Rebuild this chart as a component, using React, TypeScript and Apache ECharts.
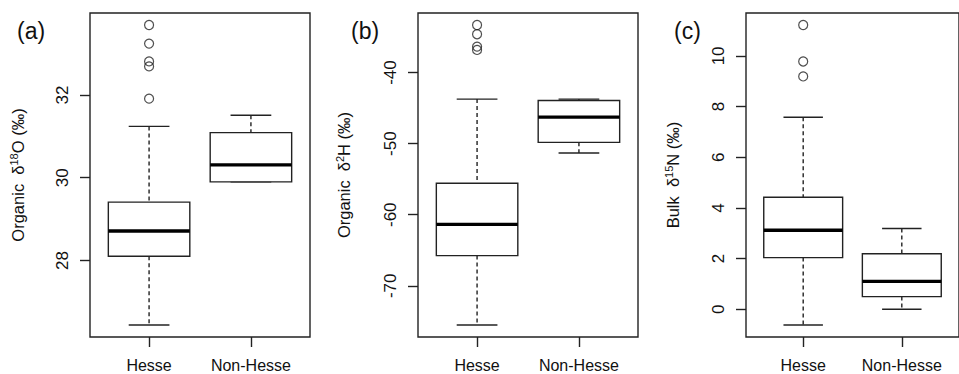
import React, { useEffect, useRef } from "react";
import * as echarts from "echarts";

// Categories
const categories = ["Hesse", "Non-Hesse"];

// Box statistics: [lower whisker, Q1, median, Q3, upper whisker]
const o18Hesse = [26.44, 28.1, 28.71, 29.41, 31.24];
const o18NonHesse = [29.9, 29.9, 30.31, 31.09, 31.51];
const o18OutliersHesse = [33.69, 33.24, 32.81, 32.69, 31.91];

const h2Hesse = [-75.51, -65.75, -61.35, -55.57, -43.73];
const h2NonHesse = [-51.31, -49.82, -46.27, -43.93, -43.73];
const h2OutliersHesse = [-33.31, -34.61, -36.35, -36.82];

const n15Hesse = [-0.62, 2.04, 3.12, 4.42, 7.58];
const n15NonHesse = [0.0, 0.5, 1.1, 2.19, 3.19];
const n15OutliersHesse = [11.22, 9.78, 9.19];

// Tick labels
const o18Ticks = [28, 30, 32];
const h2Ticks = [-70, -60, -50, -40];
const n15Ticks = [0, 2, 4, 6, 8, 10];

const panelLabels = ["(a)", "(b)", "(c)"];

const FONT = "Liberation Sans, Arial, Helvetica, sans-serif";
const LINE = "#222";

function limits(vals: number[]) {
  const lo = Math.min(...vals);
  const hi = Math.max(...vals);
  const ext = (hi - lo) * 0.04;
  return [lo - ext, hi + ext];
}

function renderBox(params: any, api: any) {
  const x = api.value(0);
  const lw = api.value(1);
  const q1 = api.value(2);
  const med = api.value(3);
  const q3 = api.value(4);
  const uw = api.value(5);
  const c = (xx: number, yy: number) => api.coord([xx, yy]);
  const tl = c(x - 0.4, q3);
  const br = c(x + 0.4, q1);
  const mL = c(x - 0.4, med);
  const mR = c(x + 0.4, med);
  const wTop = c(x, uw);
  const wQ3 = c(x, q3);
  const wQ1 = c(x, q1);
  const wBot = c(x, lw);
  const capTL = c(x - 0.2, uw);
  const capTR = c(x + 0.2, uw);
  const capBL = c(x - 0.2, lw);
  const capBR = c(x + 0.2, lw);
  const solid = { stroke: LINE, lineWidth: 1.4 };
  const dashed = { stroke: LINE, lineWidth: 1.4, lineDash: [4, 3] };
  return {
    type: "group",
    children: [
      { type: "line", shape: { x1: wTop[0], y1: wTop[1], x2: wQ3[0], y2: wQ3[1] }, style: dashed },
      { type: "line", shape: { x1: wQ1[0], y1: wQ1[1], x2: wBot[0], y2: wBot[1] }, style: dashed },
      { type: "line", shape: { x1: capTL[0], y1: capTL[1], x2: capTR[0], y2: capTR[1] }, style: solid },
      { type: "line", shape: { x1: capBL[0], y1: capBL[1], x2: capBR[0], y2: capBR[1] }, style: solid },
      {
        type: "rect",
        shape: { x: tl[0], y: tl[1], width: br[0] - tl[0], height: br[1] - tl[1] },
        style: { fill: "#fff", stroke: LINE, lineWidth: 1.4 },
      },
      { type: "line", shape: { x1: mL[0], y1: mL[1], x2: mR[0], y2: mR[1] }, style: { stroke: "#000", lineWidth: 3.4 } },
    ],
  };
}

export default function App() {
  const ref = useRef<HTMLDivElement>(null);
  useEffect(() => {
    document.body.style.margin = "0";
    if (!ref.current) return;
    const chart = echarts.init(ref.current, null, { renderer: "svg" });

    const panels = [
      { hesse: o18Hesse, non: o18NonHesse, out: o18OutliersHesse, ticks: o18Ticks, name: "{n|Organic  δ}{sup|18}{n|O (‰)}", left: 90, gap: 62 },
      { hesse: h2Hesse, non: h2NonHesse, out: h2OutliersHesse, ticks: h2Ticks, name: "{n|Organic  δ}{sup|2}{n|H (‰)}", left: 418, gap: 64 },
      { hesse: n15Hesse, non: n15NonHesse, out: n15OutliersHesse, ticks: n15Ticks, name: "{n|Bulk  δ}{sup|15}{n|N (‰)}", left: 746, gap: 63 },
    ];

    const grid: any[] = [];
    const xAxis: any[] = [];
    const yAxis: any[] = [];
    const series: any[] = [];
    const title: any[] = [];
    const titleLefts = [12, 346, 669];

    panels.forEach((p, i) => {
      const [ymin, ymax] = limits([...p.hesse, ...p.non, ...p.out]);
      grid.push({
        left: p.left,
        top: 13,
        width: 220,
        height: 324,
        show: true,
        borderColor: LINE,
        borderWidth: 1.4,
        backgroundColor: "transparent",
      });
      xAxis.push({
        type: "value",
        gridIndex: i,
        min: 0.42,
        max: 2.58,
        axisLine: { show: false, onZero: false },
        splitLine: { show: false },
        axisTick: { show: true, length: 10, customValues: [1, 2], lineStyle: { color: LINE, width: 1.4 } },
        axisLabel: {
          show: true,
          customValues: [1, 2],
          margin: 20,
          fontSize: 16,
          fontFamily: FONT,
          color: "#111",
          formatter: (v: number) => categories[Math.round(v) - 1] ?? "",
        },
      });
      yAxis.push({
        type: "value",
        gridIndex: i,
        min: ymin,
        max: ymax,
        axisLine: { show: false, onZero: false },
        splitLine: { show: false },
        axisTick: { show: true, length: 10, customValues: p.ticks, lineStyle: { color: LINE, width: 1.4 } },
        axisLabel: {
          show: true,
          customValues: p.ticks,
          rotate: 90,
          margin: 19,
          fontSize: 17,
          fontFamily: FONT,
          color: "#111",
        },
        name: p.name,
        nameLocation: "middle",
        nameRotate: 90,
        nameGap: p.gap,
        nameTextStyle: {
          fontFamily: FONT,
          color: "#111",
          rich: {
            n: { fontSize: 16.5, fontFamily: FONT, color: "#111" },
            sup: { fontSize: 11, fontFamily: FONT, color: "#111", verticalAlign: "top", padding: [0, 0, 9, 0] },
          },
        },
      });
      series.push({
        type: "custom",
        xAxisIndex: i,
        yAxisIndex: i,
        renderItem: renderBox,
        encode: { x: 0, y: [1, 2, 3, 4, 5] },
        data: [
          [1, ...p.hesse],
          [2, ...p.non],
        ],
        z: 2,
      });
      series.push({
        type: "scatter",
        xAxisIndex: i,
        yAxisIndex: i,
        symbol: "circle",
        symbolSize: 9,
        itemStyle: { color: "rgba(0,0,0,0)", borderColor: LINE, borderWidth: 1.2 },
        data: p.out.map((v) => [1, v]),
        z: 3,
      });
      title.push({
        text: panelLabels[i],
        left: titleLefts[i],
        top: 14,
        textStyle: { fontSize: 23, fontWeight: "normal", fontFamily: FONT, color: "#111" },
      });
    });

    chart.setOption({
      animation: false,
      backgroundColor: "#fff",
      title,
      grid,
      xAxis,
      yAxis,
      series,
    });
    return () => chart.dispose();
  }, []);
  return <div ref={ref} style={{ width: 959, height: 374 }} />;
}
